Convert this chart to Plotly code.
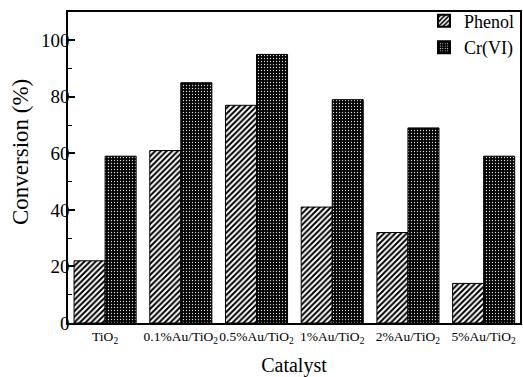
import plotly.graph_objects as go

categories = ["TiO<sub>2</sub>", "0.1%Au/TiO<sub>2</sub>", "0.5%Au/TiO<sub>2</sub>",
              "1%Au/TiO<sub>2</sub>", "2%Au/TiO<sub>2</sub>", "5%Au/TiO<sub>2</sub>"]
phenol = [22, 61, 77, 41, 32, 14]
cr_vi = [59, 85, 95, 79, 69, 59]
y_ticks = [0, 20, 40, 60, 80, 100]

FONT = "Times New Roman, Liberation Serif, serif"
L, R, T, B, W, H = 68, 3, 12, 54, 523, 377

fig = go.Figure()
fig.add_trace(go.Bar(
    x=categories, y=phenol, name="Phenol",
    marker=dict(color="white", line=dict(color="black", width=1),
                pattern=dict(shape="/", bgcolor="white", fgcolor="black",
                             size=4, solidity=0.5, fillmode="replace")),
))
fig.add_trace(go.Bar(
    x=categories, y=cr_vi, name="Cr(VI)",
    marker=dict(color="black", line=dict(color="black", width=1),
                pattern=dict(shape=".", bgcolor="black", fgcolor="#dddddd",
                             size=3, solidity=0.15, fillmode="replace")),
))

plot_h = H - T - B
plot_w = W - L - R
fig.add_annotation(text="Conversion (%)", textangle=-90, showarrow=False,
                   xref="paper", yref="paper",
                   x=(20 - L) / plot_w, y=(H - B - 152) / plot_h,
                   xanchor="center", yanchor="middle",
                   font=dict(size=23, family=FONT, color="black"))

fig.update_layout(
    width=W, height=H,
    margin=dict(l=L, r=R, t=T, b=B, autoexpand=False),
    paper_bgcolor="white", plot_bgcolor="white",
    barmode="group", bargap=0.18, bargroupgap=0,
    font=dict(family=FONT, color="black"),
    showlegend=True,
    legend=dict(x=1, y=1.03, xanchor="right", yanchor="top",
                bgcolor="rgba(255,255,255,0)", font=dict(size=18, family=FONT),
                tracegroupgap=0, itemsizing="constant"),
    xaxis=dict(range=[-0.49, 5.48], showline=True, linecolor="black", linewidth=1.5,
               mirror=True, ticks="", tickangle=0, automargin=False,
               tickfont=dict(size=13.5, family=FONT),
               title=dict(text="Catalyst", font=dict(size=20, family=FONT), standoff=17)),
    yaxis=dict(range=[0, 110], tickvals=y_ticks, showline=True, linecolor="black",
               linewidth=1.5, mirror=True, ticks="inside", ticklen=7, tickwidth=1.5,
               tickcolor="black", tickfont=dict(size=19, family=FONT), automargin=False,
               ticklabelstandoff=-7,
               minor=dict(dtick=10, ticks="inside", ticklen=4, tickwidth=1, tickcolor="black"),
               showgrid=False, zeroline=False),
)

fig.write_html("out.html", config={"displayModeBar": False},
               post_script="document.body.style.margin='0';document.body.style.overflow='hidden';")
